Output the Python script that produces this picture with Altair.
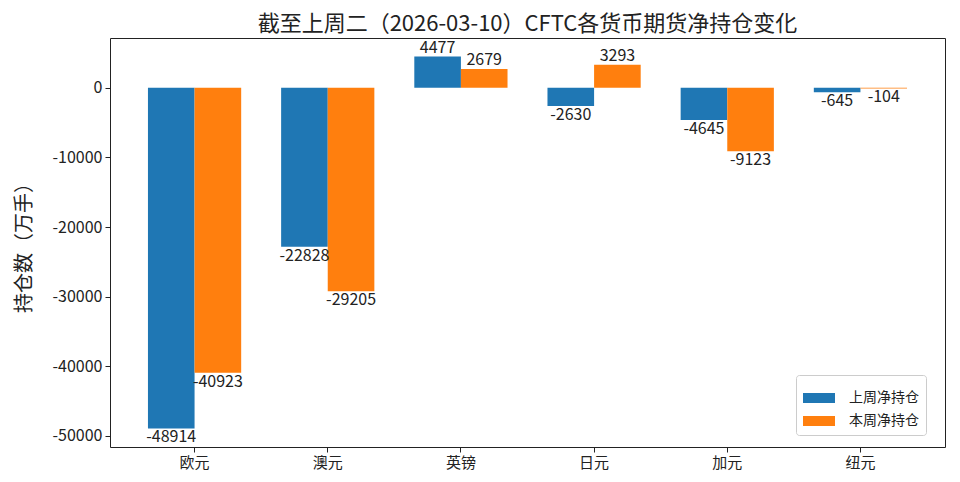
"""Grouped bar chart of CFTC net futures positions by currency."""

import altair as alt
import pandas as pd

CURRENCIES = ["欧元", "澳元", "英镑", "日元", "加元", "纽元"]
LAST_WEEK = [-48914, -22828, 4477, -2630, -4645, -645]
THIS_WEEK = [-40923, -29205, 2679, 3293, -9123, -104]
SERIES = ["上周净持仓", "本周净持仓"]
Y_TICKS = [0, -10000, -20000, -30000, -40000, -50000]

BLUE = "#1f77b4"
ORANGE = "#ff7f0e"
INK = "#222222"
FONT = "Noto Sans CJK JP"

rows = []
for name, last, this in zip(CURRENCIES, LAST_WEEK, THIS_WEEK):
    rows.append({"currency": name, "series": SERIES[0], "value": last, "label": str(last)})
    rows.append({"currency": name, "series": SERIES[1], "value": this, "label": str(this)})
df = pd.DataFrame(rows)

x = alt.X(
    "currency:N",
    sort=CURRENCIES,
    title=None,
    scale=alt.Scale(paddingInner=0.3, paddingOuter=0.285),
    axis=alt.Axis(labelAngle=0, labelFontSize=15, labelPadding=3, tickSize=5,
                  domain=False, tickColor=INK, labelColor=INK, labelFont=FONT),
)
x_offset = alt.XOffset("series:N", sort=SERIES, scale=alt.Scale(paddingInner=0, paddingOuter=0))
y = alt.Y(
    "value:Q",
    title="持仓数（万手）",
    scale=alt.Scale(domain=[-51584, 7147], nice=False, zero=False),
    axis=alt.Axis(values=Y_TICKS, format="d", labelExpr="replace(datum.label, '−', '-')",
                  labelFontSize=16, labelPadding=3, tickSize=5,
                  domain=False, grid=False, tickColor=INK, labelColor=INK, labelFont=FONT,
                  titleFontSize=20, titleFont=FONT, titleFontWeight="normal",
                  titleColor=INK, titlePadding=18),
)

base = alt.Chart(df)

bars = base.mark_bar().encode(
    x=x,
    xOffset=x_offset,
    y=y,
    y2=alt.datum(0),
    color=alt.Color(
        "series:N",
        sort=SERIES,
        scale=alt.Scale(domain=SERIES, range=[BLUE, ORANGE]),
        legend=alt.Legend(
            title=None,
            orient="none",
            legendX=686,
            legendY=337,
            symbolType="M-1,-0.3125h2v0.625h-2z",
            symbolSize=1024,
            symbolStrokeWidth=0,
            labelFontSize=14,
            labelFont=FONT,
            labelColor=INK,
            labelOffset=14,
            rowPadding=0,
            padding=7,
            strokeColor="#cccccc",
            fillColor="white",
            cornerRadius=3,
        ),
    ),
)

labels_up = (
    base.transform_filter("datum.value >= 0")
    .mark_text(baseline="bottom", dy=-1, fontSize=16, font=FONT, color=INK)
    .encode(x=x, xOffset=x_offset, y=y, text="label:N")
)
labels_down = (
    base.transform_filter("datum.value < 0")
    .mark_text(baseline="top", dy=1, fontSize=16, font=FONT, color=INK)
    .encode(x=x, xOffset=x_offset, y=y, text="label:N")
)

chart = (
    alt.layer(bars, labels_up, labels_down)
    .properties(
        width=835,
        height=409,
        autosize=alt.AutoSizeParams(type="none"),
        padding={"left": 102, "top": 30, "right": 7, "bottom": 27},
        title=alt.Title(
            "截至上周二（2026-03-10）CFTC各货币期货净持仓变化",
            fontSize=22,
            font=FONT,
            fontWeight="normal",
            color=INK,
            offset=2,
        ),
    )
    .configure(background="white")
    .configure_view(stroke=INK, strokeWidth=1)
)

chart.save("out.html", embed_options={"renderer": "svg", "actions": False})
